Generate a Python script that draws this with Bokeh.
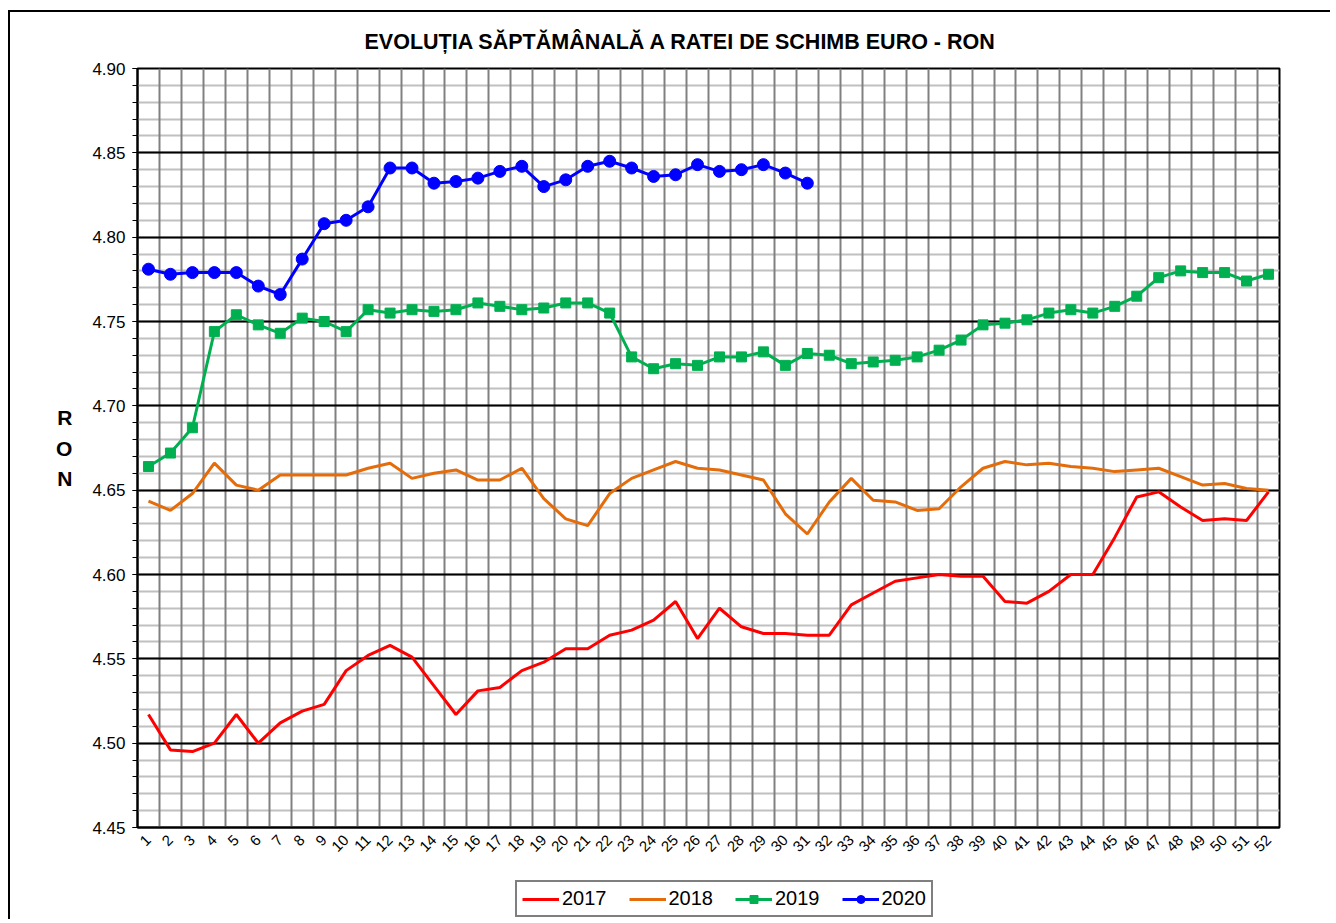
import math
from bokeh.plotting import figure
from bokeh.layouts import column
from bokeh.models import (FixedTicker, Legend, LegendItem, PrintfTickFormatter,
                          Range1d, Grid)
from bokeh.embed import file_html
from bokeh.resources import INLINE

weeks = list(range(1, 53))
week_labels = [str(w) for w in weeks]
series_names = ["2017", "2018", "2019", "2020"]
series_colors = ["#ff0000", "#e46c0a", "#00b050", "#0000ff"]

y2017 = [4.517, 4.496, 4.495, 4.500, 4.517, 4.500, 4.512, 4.519, 4.523, 4.543,
         4.552, 4.558, 4.551, 4.534, 4.517, 4.531, 4.533, 4.543, 4.548, 4.556,
         4.556, 4.564, 4.567, 4.573, 4.584, 4.562, 4.580, 4.569, 4.565, 4.565,
         4.564, 4.564, 4.582, 4.589, 4.596, 4.598, 4.600, 4.599, 4.599, 4.584,
         4.583, 4.590, 4.600, 4.600, 4.622, 4.646, 4.649, 4.640, 4.632, 4.633,
         4.632, 4.649]
y2018 = [4.6435, 4.638, 4.648, 4.666, 4.653, 4.650, 4.659, 4.659, 4.659, 4.659,
         4.663, 4.666, 4.657, 4.660, 4.662, 4.656, 4.656, 4.663, 4.645, 4.633,
         4.629, 4.648, 4.657, 4.662, 4.667, 4.663, 4.662, 4.659, 4.656, 4.636,
         4.624, 4.643, 4.657, 4.644, 4.643, 4.638, 4.639, 4.652, 4.663, 4.667,
         4.665, 4.666, 4.664, 4.663, 4.661, 4.662, 4.663, 4.658, 4.653, 4.654,
         4.651, 4.650]
y2019 = [4.664, 4.672, 4.687, 4.744, 4.754, 4.748, 4.743, 4.752, 4.750, 4.744,
         4.757, 4.755, 4.757, 4.756, 4.757, 4.761, 4.759, 4.757, 4.758, 4.761,
         4.761, 4.755, 4.729, 4.722, 4.725, 4.724, 4.729, 4.729, 4.732, 4.724,
         4.731, 4.730, 4.725, 4.726, 4.727, 4.729, 4.733, 4.739, 4.748, 4.749,
         4.751, 4.755, 4.757, 4.755, 4.759, 4.765, 4.776, 4.780, 4.779, 4.779,
         4.774, 4.778]
y2020 = [4.781, 4.778, 4.779, 4.779, 4.779, 4.771, 4.766, 4.787, 4.808, 4.810,
         4.818, 4.841, 4.841, 4.832, 4.833, 4.835, 4.839, 4.842, 4.830, 4.834,
         4.842, 4.845, 4.841, 4.836, 4.837, 4.843, 4.839, 4.840, 4.843, 4.838,
         4.832]

y_major = [4.45, 4.50, 4.55, 4.60, 4.65, 4.70, 4.75, 4.80, 4.85, 4.90]
y_minor = [round(4.45 + i * 0.01, 2) for i in range(46)]

FONT = "Liberation Sans"

p = figure(width=1320, height=858, output_backend="svg", toolbar_location=None,
           x_range=Range1d(0.5, 52.5), y_range=Range1d(4.45, 4.90),
           min_border_left=127, min_border_top=56, min_border_right=51,
           min_border_bottom=43)

p.title.text = "EVOLUȚIA SĂPTĂMÂNALĂ A RATEI DE SCHIMB EURO - RON"
p.title.align = "left"
p.title.offset = 227
p.title.standoff = 29
p.title.text_font = FONT
p.title.text_font_size = "21.5px"
p.title.text_font_style = "bold"
p.title.text_color = "black"
p.title.text_line_height = 0.6

p.outline_line_color = "black"
p.outline_line_width = 2

# grids
ygrid_minor = p.ygrid[0]
ygrid_minor.ticker = FixedTicker(ticks=y_major, minor_ticks=y_minor)
ygrid_minor.grid_line_color = None
ygrid_minor.minor_grid_line_color = "#c0c0c0"
ygrid_minor.minor_grid_line_width = 2
xgrid = p.xgrid[0]
xgrid.ticker = FixedTicker(ticks=[w + 0.5 for w in range(0, 53)])
xgrid.grid_line_color = "#808080"
xgrid.grid_line_width = 2
ygrid_major = Grid(dimension=1, ticker=FixedTicker(ticks=y_major),
                   grid_line_color="black", grid_line_width=2)
p.center = [ygrid_minor, xgrid, ygrid_major]

# axes
p.xaxis.ticker = FixedTicker(ticks=weeks)
p.xaxis.major_label_overrides = {w: lab for w, lab in zip(weeks, week_labels)}
p.xaxis.major_label_orientation = math.pi / 4
p.xaxis.major_tick_out = 0
p.xaxis.major_tick_in = 0
p.xaxis.minor_tick_out = 0
p.xaxis.axis_line_color = "black"
p.xaxis.axis_line_width = 2
p.xaxis.major_label_text_font = FONT
p.xaxis.major_label_text_font_size = "15px"
p.xaxis.major_label_text_color = "black"
p.xaxis.major_label_standoff = 10

p.yaxis.ticker = FixedTicker(ticks=y_major, minor_ticks=y_minor)
p.yaxis.formatter = PrintfTickFormatter(format="%.2f")
p.yaxis.axis_line_color = "black"
p.yaxis.axis_line_width = 2
p.yaxis.major_tick_out = 5
p.yaxis.major_tick_in = 0
p.yaxis.minor_tick_out = 5
p.yaxis.minor_tick_in = 0
p.yaxis.major_tick_line_color = "black"
p.yaxis.minor_tick_line_color = "black"
p.yaxis.major_label_text_font = FONT
p.yaxis.major_label_text_font_size = "17px"
p.yaxis.major_label_text_color = "black"
p.yaxis.major_label_standoff = 7
p.yaxis.axis_label = "R\nO\nN"
p.yaxis.axis_label_orientation = "horizontal"
p.yaxis.axis_label_text_font = FONT
p.yaxis.axis_label_text_font_size = "21px"
p.yaxis.axis_label_text_font_style = "bold"
p.yaxis.axis_label_text_color = "black"
p.yaxis.axis_label_text_line_height = 1.33
p.yaxis.axis_label_standoff = 17

# series
p.line(weeks, y2017, line_color=series_colors[0], line_width=3)
p.line(weeks, y2018, line_color=series_colors[1], line_width=3)
p.line(weeks, y2019, line_color=series_colors[2], line_width=3)
p.scatter(weeks, y2019, marker="square", size=10, fill_color=series_colors[2],
          line_color=series_colors[2])
p.line(weeks[:len(y2020)], y2020, line_color=series_colors[3], line_width=3)
p.scatter(weeks[:len(y2020)], y2020, marker="circle", size=12,
          fill_color=series_colors[3], line_color=series_colors[3])

# legend strip (separate small figure so the legend is not clipped)
q = figure(width=1320, height=49, output_backend="svg", toolbar_location=None,
           x_range=Range1d(0, 1), y_range=Range1d(0, 1),
           x_axis_location=None, y_axis_location=None,
           min_border_left=0, min_border_right=0, min_border_top=0,
           min_border_bottom=0)
q.grid.visible = False
q.outline_line_color = None
nan = [math.nan]
l17 = q.line(nan, nan, line_color=series_colors[0], line_width=3)
l18 = q.line(nan, nan, line_color=series_colors[1], line_width=3)
l19 = q.line(nan, nan, line_color=series_colors[2], line_width=3)
m19 = q.scatter(nan, nan, marker="square", size=10, fill_color=series_colors[2],
                line_color=series_colors[2])
l20 = q.line(nan, nan, line_color=series_colors[3], line_width=3)
m20 = q.scatter(nan, nan, marker="circle", size=12, fill_color=series_colors[3],
                line_color=series_colors[3])

legend = Legend(items=[
    LegendItem(label=series_names[0], renderers=[l17]),
    LegendItem(label=series_names[1], renderers=[l18]),
    LegendItem(label=series_names[2], renderers=[l19, m19]),
    LegendItem(label=series_names[3], renderers=[l20, m20]),
], orientation="horizontal", location=(378, 2))
legend.border_line_color = "black"
legend.border_line_width = 2
legend.label_text_font = FONT
legend.label_text_font_size = "20px"
legend.label_text_color = "black"
legend.glyph_width = 37
legend.glyph_height = 20
legend.label_standoff = 3
legend.label_width = 44
legend.spacing = 22
legend.padding = 5
legend.margin = 0
legend.background_fill_alpha = 1
q.add_layout(legend, "center")

layout = column(p, q, spacing=0)
layout.styles = {"margin-left": "8px", "margin-top": "10px",
                 "border-left": "2px solid black", "border-top": "2px solid black"}

open("out.html", "w").write(file_html(layout, INLINE))
